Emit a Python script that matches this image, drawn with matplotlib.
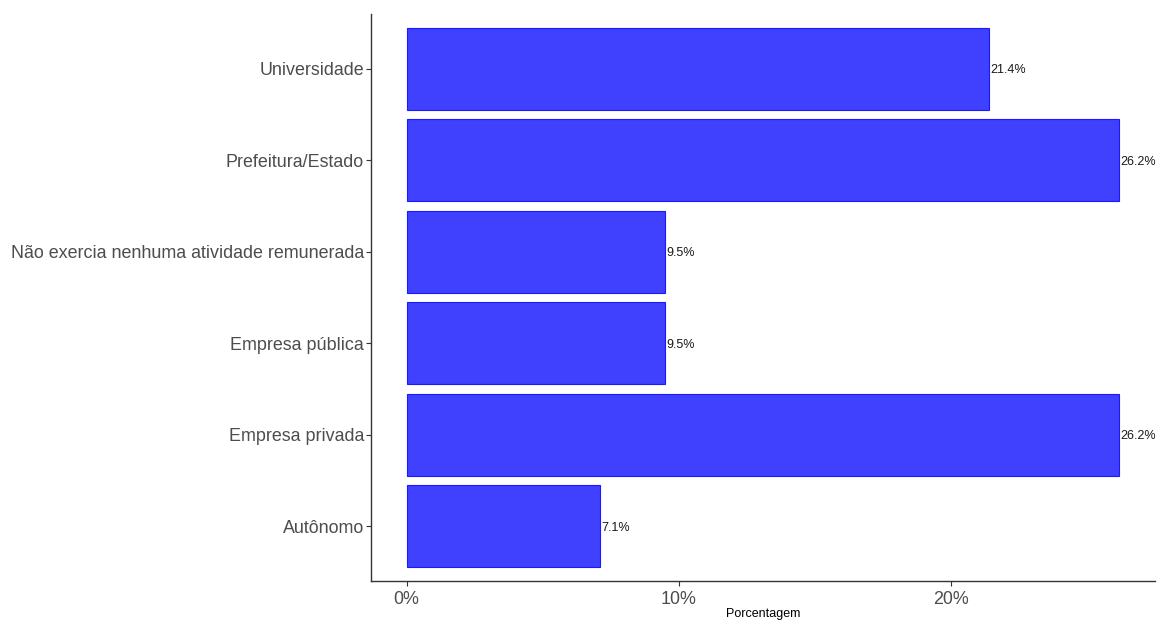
import matplotlib.pyplot as plt
import numpy as np

categorias = ["Autônomo", "Empresa privada", "Empresa pública",
              "Não exercia nenhuma atividade remunerada", "Prefeitura/Estado", "Universidade"]
porcentagem = [7.1, 26.2, 9.5, 9.5, 26.2, 21.4]
rotulos = ["7.1%", "26.2%", "9.5%", "9.5%", "26.2%", "21.4%"]
xticks = [0, 10, 20]
xtick_labels = ["0%", "10%", "20%"]

plt.rcParams['font.family'] = ['Liberation Sans', 'DejaVu Sans']

fig = plt.figure(figsize=(11.57, 6.2), dpi=100)
ax = fig.add_axes([371/1157, 39/620, (1155-371)/1157, (581-14)/620])

y = np.arange(len(categorias))
ax.barh(y, porcentagem, height=0.9, color="#4040FF", edgecolor="#1a1aff", linewidth=0.8)
for yi, v, lab in zip(y, porcentagem, rotulos):
    ax.text(v + 0.05, yi, lab, va="center_baseline", ha="left", fontsize=9,
            color="#1a1a1a", clip_on=False)

xmax = max(porcentagem)
ax.set_xlim(-0.05*xmax, 1.05*xmax)
ax.set_ylim(-0.6, len(categorias) - 0.4)
ax.set_yticks(y)
ax.set_yticklabels(categorias, fontsize=12.9, color="#4D4D4D")
for t in ax.get_yticklabels():
    t.set_va("center_baseline")
ax.set_xticks(xticks)
ax.set_xticklabels(xtick_labels, fontsize=12.9, color="#4D4D4D")
ax.tick_params(length=3.5, width=0.8, color="#333333", pad=1.5)
ax.tick_params(axis="x", pad=4)
ax.set_xlabel("Porcentagem", fontsize=9, color="black", labelpad=0)

for s in ["top", "right"]:
    ax.spines[s].set_visible(False)
for s in ["left", "bottom"]:
    ax.spines[s].set_color("#333333")
    ax.spines[s].set_linewidth(1)

fig.savefig("out.png", dpi=100)
